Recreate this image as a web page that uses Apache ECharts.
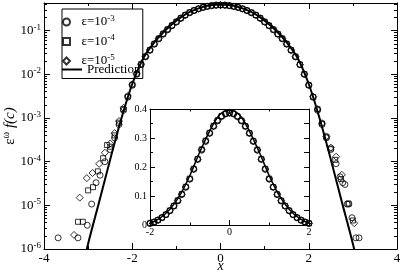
<!DOCTYPE html>
<html><head><meta charset="utf-8">
<script src="https://cdn.jsdelivr.net/npm/echarts@6/dist/echarts.min.js"></script>
<style>html,body{margin:0;padding:0;background:#fff}#c{width:400px;height:273px}</style>
</head><body><div id="c"></div>
<script>
// Prediction curve
const predX = [-3.25,-3,-2.75,-2.5,-2.25,-2,-1.75,-1.5,-1.25,-1,-0.75,-0.5,-0.25,0,0.25,0.5,0.75,1,1.25,1.5,1.75,2,2.25,2.5,2.75,3,3.25];
const predY = [1.0e-7,1.32e-6,1.2e-5,1.12e-4,9.5e-4,6.0e-3,0.0234,0.054,0.102,0.170,0.251,0.324,0.380,0.398,0.380,0.324,0.251,0.170,0.102,0.054,0.0234,6.0e-3,9.5e-4,1.12e-4,1.2e-5,1.32e-6,1.0e-7];

// Core data x positions
const coreX = [-2.5,-2.4,-2.3,-2.2,-2.1,-2.0,-1.9,-1.8,-1.7,-1.6,-1.5,-1.4,-1.3,-1.2,-1.1,-1.0,-0.9,-0.8,-0.7,-0.6,-0.5,-0.4,-0.3,-0.2,-0.1,0,0.1,0.2,0.3,0.4,0.5,0.6,0.7,0.8,0.9,1.0,1.1,1.2,1.3,1.4,1.5,1.6,1.7,1.8,1.9,2.0,2.1,2.2,2.3,2.4,2.5];

// eps = 1e-3 (circles)
const circY = [1.9e-4,3.5e-4,7.1e-4,1.5e-3,3.0e-3,5.6e-3,0.0100,0.0166,0.0251,0.0355,0.049,0.065,0.083,0.105,0.130,0.158,0.192,0.226,0.258,0.288,0.316,0.340,0.359,0.374,0.383,0.386,0.383,0.374,0.359,0.340,0.316,0.288,0.258,0.226,0.192,0.158,0.130,0.105,0.083,0.065,0.049,0.0355,0.0251,0.0166,0.0100,5.6e-3,3.0e-3,1.5e-3,7.1e-4,3.5e-4,1.9e-4];
const circTailX = [-3.68,-3.23,-3.02,-2.92,-2.82,-2.73,-2.62,2.62,2.71,2.77,2.82,2.87,2.91,2.98,3.07,3.14];
const circTailY = [1.8e-6,1.8e-6,3.5e-6,1.07e-5,3.3e-5,4.9e-5,1.0e-4,9e-5,4.5e-5,3.3e-5,3.0e-5,1.07e-5,1.07e-5,5.2e-6,1.8e-6,1.8e-6];

// eps = 1e-4 (squares)
const sqY = [2.2e-4,4.0e-4,7.8e-4,1.6e-3,3.1e-3,5.8e-3,0.0102,0.0170,0.0256,0.0360,0.050,0.066,0.085,0.107,0.132,0.160,0.194,0.228,0.261,0.291,0.318,0.342,0.361,0.376,0.384,0.387,0.384,0.375,0.360,0.341,0.317,0.290,0.260,0.228,0.194,0.160,0.131,0.106,0.084,0.066,0.050,0.0360,0.0255,0.0168,0.0102,5.7e-3,3.0e-3,1.6e-3,7.5e-4,3.7e-4,2.0e-4];
const sqTailX = [-3.23,-3.12,-3.0,-2.89,-2.78,-2.66,-2.57,2.6,2.73,2.9,3.0];
const sqTailY = [4.2e-6,4.2e-6,2.2e-5,2.6e-5,6e-5,1.2e-4,2.4e-4,1.1e-4,4e-5,1.1e-5,4.5e-6];

// eps = 1e-5 (diamonds)
const diaY = [2.6e-4,4.5e-4,8.5e-4,1.7e-3,3.2e-3,5.9e-3,0.0104,0.0172,0.0258,0.0362,0.050,0.066,0.085,0.106,0.131,0.159,0.193,0.227,0.260,0.290,0.317,0.341,0.360,0.375,0.384,0.387,0.384,0.375,0.360,0.341,0.317,0.289,0.259,0.227,0.193,0.159,0.131,0.106,0.084,0.066,0.050,0.0358,0.0254,0.0168,0.0101,5.7e-3,3.1e-3,1.6e-3,7.6e-4,3.8e-4,2.1e-4];
const diaTailX = [-3.32,-3.19,-3.03,-2.9,-2.75,-2.62,2.62,2.75,3.03];
const diaTailY = [2.1e-6,1.5e-5,4.2e-5,5.5e-5,8.9e-5,1.6e-4,1.3e-4,5e-5,3.9e-6];

// Axis ticks
const decades = [1e-6,1e-5,1e-4,1e-3,1e-2,1e-1];
const insetYTicks = [0,0.1,0.2,0.3,0.4];

const seriesNames = ['ε=10^-3','ε=10^-4','ε=10^-5','Prediction'];

function pairs(xs, ys){ return xs.map((x,i)=>[x, ys[i]]); }
function withTail(cx, cy, tx, ty){ return pairs(cx, cy).concat(pairs(tx, ty)); }

const minorVals = [];
decades.forEach(d => { for (let k = 2; k <= 9; k++) { const v = k*d; if (v < 0.43) minorVals.push(v); } });

const FF = 'Liberation Serif';
const black = '#000';

const supRich = {
  b: {fontFamily: FF, fontSize: 13, color: black},
  s: {fontFamily: FF, fontSize: 9, color: black, padding: [0,0,7,0]}
};

const chart = echarts.init(document.getElementById('c'), null, {renderer: 'canvas'});

function xAx(grid, pos, min, max, interval, showLab, fs, tickLen) {
  return {
    type: 'value', gridIndex: grid, position: pos, min, max, interval,
    axisLine: {show: true, onZero: false, lineStyle: {color: black, width: 1}},
    axisTick: {show: true, inside: true, length: tickLen, lineStyle: {color: black}},
    minorTick: {show: true, splitNumber: 2, length: tickLen/2, lineStyle: {color: black}},
    splitLine: {show: false},
    axisLabel: {show: showLab, fontFamily: FF, fontSize: fs, color: black, margin: grid === 0 ? 3 : 2,
      formatter: v => (v < 0 ? '-' + Math.abs(v) : String(v))}
  };
}

function logAx(pos, ticks, len, showLab, showLine) {
  return {
    type: 'log', gridIndex: 0, position: pos, min: 1e-6, max: 0.43, logBase: 10,
    axisLine: {show: showLine, onZero: false, lineStyle: {color: black, width: 1}},
    axisTick: {show: true, inside: true, length: len, customValues: ticks, lineStyle: {color: black}},
    splitLine: {show: false},
    axisLabel: showLab ? {show: true, customValues: decades, margin: 3,
      formatter: v => '{b|10}{s|' + Math.round(Math.log10(v)) + '}', rich: supRich} : {show: false},
    name: showLab ? '{e|ε}{w|ω}{f| f(c)}' : '',
    nameLocation: 'middle', nameGap: 25, nameRotate: 90, nameMoveOverlap: false,
    nameTextStyle: {rich: {
      e: {fontFamily: FF, fontSize: 15, color: black},
      w: {fontFamily: FF, fontSize: 10, color: black, padding: [0,0,8,0]},
      f: {fontFamily: FF, fontSize: 15, fontStyle: 'italic', color: black}
    }}
  };
}

function insetY(pos, showLab, minorLen) {
  return {type: 'value', gridIndex: 1, position: pos, min: 0, max: 0.4, interval: 0.1,
    axisLine: {show: true, onZero: false, lineStyle: {color: black}},
    axisTick: {show: true, inside: true, length: 5, lineStyle: {color: black}},
    minorTick: {show: true, splitNumber: 2, length: minorLen, lineStyle: {color: black}},
    splitLine: {show: false},
    axisLabel: {show: showLab, fontFamily: FF, fontSize: 10, color: black, margin: 3, customValues: insetYTicks}};
}

const legendText = {fontFamily: FF, fontSize: 13, color: black, rich: supRich};
const legendFmt = n => {
  if (n === 'Prediction') return '{b|Prediction}';
  return '{b|ε=10}{s|' + n.split('^')[1] + '}';
};

const option = {
  animation: false,
  backgroundColor: '#fff',
  grid: [
    {left: 44, top: 3, right: 3, bottom: 24, show: false, containLabel: false, outerBoundsMode: 'none'},
    {left: 150, top: 109, width: 159, height: 116, show: true, backgroundColor: '#fff', borderWidth: 0,
      containLabel: false, outerBoundsMode: 'none'}
  ],
  legend: [
    {
      orient: 'vertical', left: 62, top: 9,
      borderColor: black, borderWidth: 1, padding: [5, 28, 11, 0],
      itemWidth: 20, itemHeight: 7, itemGap: 5, symbolKeepAspect: true,
      textStyle: legendText, formatter: legendFmt, selectedMode: false,
      data: [
        {name: seriesNames[0], icon: 'circle'},
        {name: seriesNames[1], icon: 'path://M0,0L1,0L1,1L0,1Z'},
        {name: seriesNames[2], icon: 'path://M0.5,0L1,0.5L0.5,1L0,0.5Z'}
      ]
    },
    {
      orient: 'vertical', left: 62, top: 63, padding: 0,
      itemWidth: 20, itemHeight: 7, symbolKeepAspect: true,
      textStyle: legendText, formatter: legendFmt, selectedMode: false,
      data: [{name: seriesNames[3], icon: 'path://M0,0L20,0L20,2L0,2Z'}]
    }
  ],
  xAxis: [
    Object.assign(xAx(0, 'bottom', -4, 4, 2, true, 13, 6), {
      name: 'x', nameLocation: 'middle', nameGap: 10, nameMoveOverlap: false,
      nameTextStyle: {fontFamily: FF, fontSize: 14, fontStyle: 'italic', color: black}}),
    xAx(0, 'top', -4, 4, 2, false, 13, 6),
    xAx(1, 'bottom', -2, 2, 2, true, 10, 5),
    xAx(1, 'top', -2, 2, 2, false, 10, 5)
  ],
  yAxis: [
    logAx('left', decades, 6, true, true),
    logAx('right', decades, 6, false, true),
    logAx('left', minorVals, 3, false, false),
    logAx('right', minorVals, 3, false, false),
    insetY('left', true, 3),
    insetY('right', false, 5)
  ],
  series: []
};

const sets = [
  {name: seriesNames[0], sym: 'circle', size: 6, data: withTail(coreX, circY, circTailX, circTailY)},
  {name: seriesNames[1], sym: 'rect', size: 5, data: withTail(coreX, sqY, sqTailX, sqTailY)},
  {name: seriesNames[2], sym: 'diamond', size: 7, data: withTail(coreX, diaY, diaTailX, diaTailY)}
];
sets.forEach(s => {
  option.series.push({type: 'scatter', name: s.name, xAxisIndex: 0, yAxisIndex: 0, symbol: s.sym, symbolSize: s.size,
    data: s.data, itemStyle: {color: 'rgba(0,0,0,0)', borderColor: black, borderWidth: 1}, z: 2});
});
option.series.push({type: 'line', name: seriesNames[3], xAxisIndex: 0, yAxisIndex: 0, data: pairs(predX, predY),
  symbol: 'none', smooth: 0.3, lineStyle: {color: black, width: 2}, itemStyle: {color: black}, z: 3});
sets.forEach(s => {
  option.series.push({type: 'scatter', name: s.name, xAxisIndex: 2, yAxisIndex: 4, symbol: s.sym, symbolSize: s.size,
    data: s.data.filter(p => p[0] >= -2 && p[0] <= 2), itemStyle: {color: 'rgba(0,0,0,0)', borderColor: black, borderWidth: 1}, z: 6});
});
option.series.push({type: 'line', name: seriesNames[3], xAxisIndex: 2, yAxisIndex: 4, data: pairs(predX, predY),
  symbol: 'none', smooth: 0.3, clip: true, lineStyle: {color: black, width: 1.5}, itemStyle: {color: black}, z: 7});

chart.setOption(option);
</script></body></html>
